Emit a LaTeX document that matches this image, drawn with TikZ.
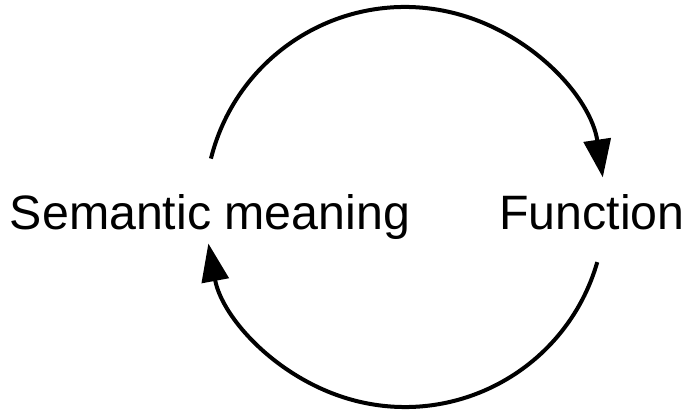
\documentclass[tikz,border=0pt]{standalone}
\usepackage{fontspec}
\setmainfont{Liberation Sans}
\usetikzlibrary{arrows.meta, positioning}
\tikzstyle{cyclearrow} = [line width=4pt, -{Triangle[length=38pt,width=27pt]}]
\tikzstyle{label} = [font=\fontsize{48.3}{58}\selectfont, anchor=base, inner sep=0pt]

\begin{document}
\begin{tikzpicture}[x=1pt, y=1pt]
    \useasboundingbox (0,0) rectangle (688,414);
    % Centre of the cycle
    \coordinate (centre) at (405,207);

    % Labels
    \node[label] (semantic) at (210,184) {Semantic meaning};
    \node[label] (function) at (592,184) {Function};

    % Cycle arrows
    \draw[cyclearrow] (centre) ++(166:200) arc[start angle=166, end angle=8.5, radius=200];
    \draw[cyclearrow] (centre) ++(-16:200) arc[start angle=-16, end angle=-169.5, radius=200];
\end{tikzpicture}
\end{document}
